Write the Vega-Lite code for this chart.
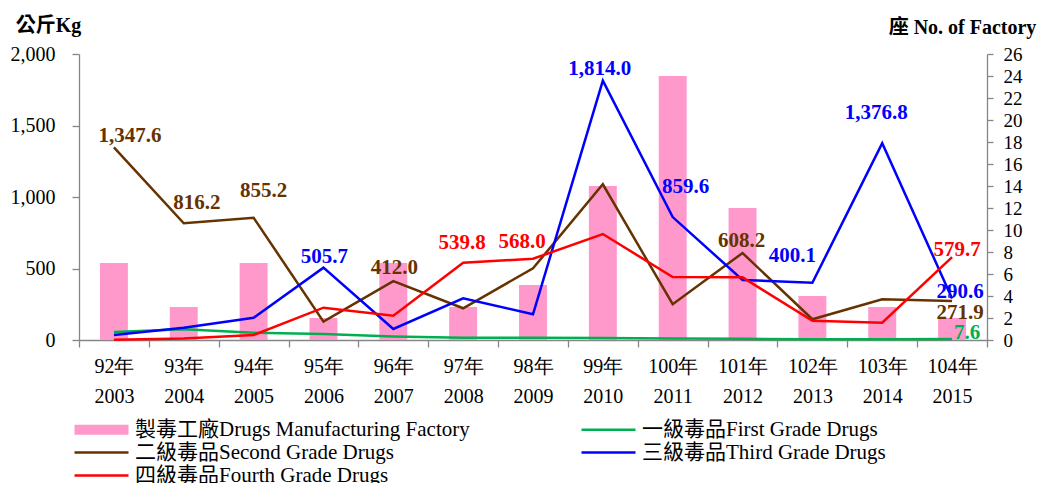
{
  "$schema": "https://vega.github.io/schema/vega-lite/v6.json",
  "width": 908,
  "height": 286,
  "autosize": {"type": "none"},
  "padding": {"left": 79, "top": 54, "right": 58, "bottom": 143},
  "background": "white",
  "config": {
    "view": {"stroke": null},
    "font": "Liberation Serif",
    "axis": {
      "grid": false,
      "domainColor": "#868686",
      "tickColor": "#868686",
      "domainWidth": 1.3,
      "tickWidth": 1.3,
      "labelColor": "#000000",
      "labelFont": "Liberation Serif",
      "titleFont": "Liberation Serif, Noto Sans CJK TC",
      "titleColor": "#000000"
    },
    "text": {"font": "Liberation Serif", "fontSize": 21, "fontWeight": "bold"}
  },
  "datasets": {
    "factories": [
      {"year": "92年 2003", "series": "製毒工廠Drugs Manufacturing Factory", "count": 7},
      {"year": "93年 2004", "series": "製毒工廠Drugs Manufacturing Factory", "count": 3},
      {"year": "94年 2005", "series": "製毒工廠Drugs Manufacturing Factory", "count": 7},
      {"year": "95年 2006", "series": "製毒工廠Drugs Manufacturing Factory", "count": 2},
      {"year": "96年 2007", "series": "製毒工廠Drugs Manufacturing Factory", "count": 7},
      {"year": "97年 2008", "series": "製毒工廠Drugs Manufacturing Factory", "count": 3},
      {"year": "98年 2009", "series": "製毒工廠Drugs Manufacturing Factory", "count": 5},
      {"year": "99年 2010", "series": "製毒工廠Drugs Manufacturing Factory", "count": 14},
      {"year": "100年 2011", "series": "製毒工廠Drugs Manufacturing Factory", "count": 24},
      {"year": "101年 2012", "series": "製毒工廠Drugs Manufacturing Factory", "count": 12},
      {"year": "102年 2013", "series": "製毒工廠Drugs Manufacturing Factory", "count": 4},
      {"year": "103年 2014", "series": "製毒工廠Drugs Manufacturing Factory", "count": 3},
      {"year": "104年 2015", "series": "製毒工廠Drugs Manufacturing Factory", "count": 2}
    ],
    "seizures": [
      {"year": "92年 2003", "series": "一級毒品First Grade Drugs", "kg": 56},
      {"year": "93年 2004", "series": "一級毒品First Grade Drugs", "kg": 75},
      {"year": "94年 2005", "series": "一級毒品First Grade Drugs", "kg": 51},
      {"year": "95年 2006", "series": "一級毒品First Grade Drugs", "kg": 42},
      {"year": "96年 2007", "series": "一級毒品First Grade Drugs", "kg": 25},
      {"year": "97年 2008", "series": "一級毒品First Grade Drugs", "kg": 16},
      {"year": "98年 2009", "series": "一級毒品First Grade Drugs", "kg": 15},
      {"year": "99年 2010", "series": "一級毒品First Grade Drugs", "kg": 14},
      {"year": "100年 2011", "series": "一級毒品First Grade Drugs", "kg": 11},
      {"year": "101年 2012", "series": "一級毒品First Grade Drugs", "kg": 8},
      {"year": "102年 2013", "series": "一級毒品First Grade Drugs", "kg": 6},
      {"year": "103年 2014", "series": "一級毒品First Grade Drugs", "kg": 6},
      {"year": "104年 2015", "series": "一級毒品First Grade Drugs", "kg": 7.6},
      {"year": "92年 2003", "series": "二級毒品Second Grade Drugs", "kg": 1347.6},
      {"year": "93年 2004", "series": "二級毒品Second Grade Drugs", "kg": 816.2},
      {"year": "94年 2005", "series": "二級毒品Second Grade Drugs", "kg": 855.2},
      {"year": "95年 2006", "series": "二級毒品Second Grade Drugs", "kg": 128},
      {"year": "96年 2007", "series": "二級毒品Second Grade Drugs", "kg": 412.0},
      {"year": "97年 2008", "series": "二級毒品Second Grade Drugs", "kg": 222},
      {"year": "98年 2009", "series": "二級毒品Second Grade Drugs", "kg": 501},
      {"year": "99年 2010", "series": "二級毒品Second Grade Drugs", "kg": 1089},
      {"year": "100年 2011", "series": "二級毒品Second Grade Drugs", "kg": 250},
      {"year": "101年 2012", "series": "二級毒品Second Grade Drugs", "kg": 608.2},
      {"year": "102年 2013", "series": "二級毒品Second Grade Drugs", "kg": 145},
      {"year": "103年 2014", "series": "二級毒品Second Grade Drugs", "kg": 285},
      {"year": "104年 2015", "series": "二級毒品Second Grade Drugs", "kg": 271.9},
      {"year": "92年 2003", "series": "三級毒品Third Grade Drugs", "kg": 35},
      {"year": "93年 2004", "series": "三級毒品Third Grade Drugs", "kg": 86},
      {"year": "94年 2005", "series": "三級毒品Third Grade Drugs", "kg": 156},
      {"year": "95年 2006", "series": "三級毒品Third Grade Drugs", "kg": 505.7},
      {"year": "96年 2007", "series": "三級毒品Third Grade Drugs", "kg": 77},
      {"year": "97年 2008", "series": "三級毒品Third Grade Drugs", "kg": 292},
      {"year": "98年 2009", "series": "三級毒品Third Grade Drugs", "kg": 180},
      {"year": "99年 2010", "series": "三級毒品Third Grade Drugs", "kg": 1814.0},
      {"year": "100年 2011", "series": "三級毒品Third Grade Drugs", "kg": 859.6},
      {"year": "101年 2012", "series": "三級毒品Third Grade Drugs", "kg": 420},
      {"year": "102年 2013", "series": "三級毒品Third Grade Drugs", "kg": 400.1},
      {"year": "103年 2014", "series": "三級毒品Third Grade Drugs", "kg": 1376.8},
      {"year": "104年 2015", "series": "三級毒品Third Grade Drugs", "kg": 290.6},
      {"year": "92年 2003", "series": "四級毒品Fourth Grade Drugs", "kg": 2},
      {"year": "93年 2004", "series": "四級毒品Fourth Grade Drugs", "kg": 10},
      {"year": "94年 2005", "series": "四級毒品Fourth Grade Drugs", "kg": 35},
      {"year": "95年 2006", "series": "四級毒品Fourth Grade Drugs", "kg": 226},
      {"year": "96年 2007", "series": "四級毒品Fourth Grade Drugs", "kg": 170},
      {"year": "97年 2008", "series": "四級毒品Fourth Grade Drugs", "kg": 539.8},
      {"year": "98年 2009", "series": "四級毒品Fourth Grade Drugs", "kg": 568.0},
      {"year": "99年 2010", "series": "四級毒品Fourth Grade Drugs", "kg": 741},
      {"year": "100年 2011", "series": "四級毒品Fourth Grade Drugs", "kg": 440},
      {"year": "101年 2012", "series": "四級毒品Fourth Grade Drugs", "kg": 438},
      {"year": "102年 2013", "series": "四級毒品Fourth Grade Drugs", "kg": 135},
      {"year": "103年 2014", "series": "四級毒品Fourth Grade Drugs", "kg": 121},
      {"year": "104年 2015", "series": "四級毒品Fourth Grade Drugs", "kg": 579.7}
    ]
  },
  "layer": [
    {
      "data": {"name": "factories"},
      "mark": {"type": "bar", "width": {"band": 0.4}},
      "encoding": {
        "x": {
          "field": "year",
          "type": "ordinal",
          "sort": null,
          "scale": {"paddingInner": 0, "paddingOuter": 0},
          "axis": {
            "title": null,
            "tickBand": "extent",
            "tickSize": 7,
            "labelAngle": 0,
            "labelExpr": "split(datum.label, ' ')",
            "labelFontSize": 20,
            "labelLineHeight": 30,
            "labelPadding": 9
          }
        },
        "y": {
          "field": "count",
          "type": "quantitative",
          "scale": {"domain": [0, 26], "nice": false},
          "axis": {
            "orient": "right",
            "values": [0, 2, 4, 6, 8, 10, 12, 14, 16, 18, 20, 22, 24, 26],
            "tickSize": 6,
            "labelPadding": 10,
            "labelFontSize": 19,
            "title": "座 No. of Factory",
            "titleAngle": 0,
            "titleX": -25,
            "titleY": -27,
            "titleAlign": "center",
            "titleBaseline": "middle",
            "titleFontSize": 20,
            "titleFontWeight": "bold"
          }
        },
        "color": {
          "field": "series",
          "type": "nominal",
          "scale": {
            "domain": ["製毒工廠Drugs Manufacturing Factory", "一級毒品First Grade Drugs", "二級毒品Second Grade Drugs", "三級毒品Third Grade Drugs", "四級毒品Fourth Grade Drugs"],
            "range": ["#FF99CC", "#00B050", "#663300", "#0000FF", "#FF0000"]
          },
          "legend": {
            "orient": "none",
            "direction": "horizontal",
            "legendX": 12,
            "legendY": 365,
            "columns": 2,
            "columnPadding": 111,
            "rowPadding": 1,
            "title": null,
            "symbolType": "M-5.4,-0.27H5.4V0.27H-5.4Z",
            "symbolSize": 100,
            "symbolStrokeWidth": 0,
            "labelOffset": 23,
            "labelFont": "Liberation Serif, Noto Sans CJK TC",
            "labelFontSize": 21,
            "labelColor": "#000000",
            "labelLimit": 500,
            "encode": {
              "symbols": {
                "update": {
                  "shape": {"signal": "datum.value === '製毒工廠Drugs Manufacturing Factory' ? 'M-5.4,-1H5.4V1H-5.4Z' : 'M-5.4,-0.27H5.4V0.27H-5.4Z'"},
                  "fill": {"scale": "color", "field": "value"},
                  "stroke": {"value": "transparent"},
                  "opacity": {"value": 1}
                }
              }
            }
          }
        }
      }
    },
    {
      "data": {"name": "seizures"},
      "encoding": {
        "x": {"field": "year", "type": "ordinal", "sort": null},
        "y": {
          "field": "kg",
          "type": "quantitative",
          "scale": {"domain": [0, 2000], "nice": false},
          "axis": {
            "orient": "left",
            "values": [0, 500, 1000, 1500, 2000],
            "format": ",.0f",
            "tickSize": 7,
            "labelPadding": 17,
            "labelFontSize": 20,
            "title": "公斤Kg",
            "titleAngle": 0,
            "titleX": -31,
            "titleY": -29,
            "titleAlign": "center",
            "titleBaseline": "middle",
            "titleFontSize": 20,
            "titleFontWeight": "bold"
          }
        }
      },
      "layer": [
        {
          "mark": {"type": "line", "strokeWidth": 2.5, "strokeJoin": "miter"},
          "encoding": {
            "color": {"field": "series", "type": "nominal"}
          }
        },
        {
          "encoding": {
            "text": {"field": "kg", "type": "quantitative", "format": ",.1f"}
          },
          "layer": [
            {"transform": [{"filter": "datum.series === '二級毒品Second Grade Drugs' && datum.year === '92年 2003'"}], "mark": {"type": "text", "dx": 16, "dy": -11, "color": "#663300"}},
            {"transform": [{"filter": "datum.series === '二級毒品Second Grade Drugs' && datum.year === '93年 2004'"}], "mark": {"type": "text", "dx": 13, "dy": -20, "color": "#663300"}},
            {"transform": [{"filter": "datum.series === '二級毒品Second Grade Drugs' && datum.year === '94年 2005'"}], "mark": {"type": "text", "dx": 10, "dy": -27, "color": "#663300"}},
            {"transform": [{"filter": "datum.series === '二級毒品Second Grade Drugs' && datum.year === '96年 2007'"}], "mark": {"type": "text", "dx": 1, "dy": -13, "color": "#663300"}},
            {"transform": [{"filter": "datum.series === '二級毒品Second Grade Drugs' && datum.year === '101年 2012'"}], "mark": {"type": "text", "dx": -1, "dy": -12, "color": "#663300"}},
            {"transform": [{"filter": "datum.series === '二級毒品Second Grade Drugs' && datum.year === '104年 2015'"}], "mark": {"type": "text", "dx": 8, "dy": 12, "color": "#663300"}},
            {"transform": [{"filter": "datum.series === '三級毒品Third Grade Drugs' && datum.year === '95年 2006'"}], "mark": {"type": "text", "dx": 1, "dy": -11, "color": "#0000FF"}},
            {"transform": [{"filter": "datum.series === '三級毒品Third Grade Drugs' && datum.year === '99年 2010'"}], "mark": {"type": "text", "dx": -3, "dy": -12, "color": "#0000FF"}},
            {"transform": [{"filter": "datum.series === '三級毒品Third Grade Drugs' && datum.year === '100年 2011'"}], "mark": {"type": "text", "dx": 13, "dy": -30, "color": "#0000FF"}},
            {"transform": [{"filter": "datum.series === '三級毒品Third Grade Drugs' && datum.year === '102年 2013'"}], "mark": {"type": "text", "dx": -20, "dy": -27, "color": "#0000FF"}},
            {"transform": [{"filter": "datum.series === '三級毒品Third Grade Drugs' && datum.year === '103年 2014'"}], "mark": {"type": "text", "dx": -6, "dy": -30, "color": "#0000FF"}},
            {"transform": [{"filter": "datum.series === '三級毒品Third Grade Drugs' && datum.year === '104年 2015'"}], "mark": {"type": "text", "dx": 8, "dy": -6, "color": "#0000FF"}},
            {"transform": [{"filter": "datum.series === '四級毒品Fourth Grade Drugs' && datum.year === '97年 2008'"}], "mark": {"type": "text", "dx": -1, "dy": -20, "color": "#FF0000"}},
            {"transform": [{"filter": "datum.series === '四級毒品Fourth Grade Drugs' && datum.year === '98年 2009'"}], "mark": {"type": "text", "dx": -11, "dy": -17, "color": "#FF0000"}},
            {"transform": [{"filter": "datum.series === '四級毒品Fourth Grade Drugs' && datum.year === '104年 2015'"}], "mark": {"type": "text", "dx": 5, "dy": -7, "color": "#FF0000"}},
            {"transform": [{"filter": "datum.series === '一級毒品First Grade Drugs' && datum.year === '104年 2015'"}], "mark": {"type": "text", "dx": 15, "dy": -6, "color": "#00B050"}}
          ]
        }
      ]
    }
  ],
  "resolve": {"scale": {"y": "independent"}}
}
